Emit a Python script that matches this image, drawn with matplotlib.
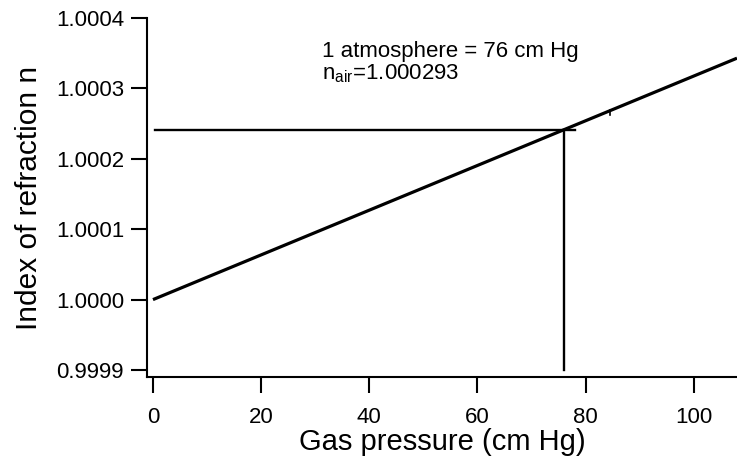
import numpy as np
import matplotlib.pyplot as plt
from matplotlib.ticker import FormatStrFormatter

plt.rcParams['font.family'] = ['Liberation Sans', 'DejaVu Sans']

# refraction line
pressure = [0, 108]
index_n = [1.0000, 1.000343]

# guide lines at one atmosphere
atm_p = 76
n_at_atm = 1.000241
guide_h_x = [0.3, 78]
guide_v_y = [0.9999, n_at_atm]

x_ticks = [0, 20, 40, 60, 80, 100]
y_ticks = [0.9999, 1.0000, 1.0001, 1.0002, 1.0003, 1.0004]

fig = plt.figure(figsize=(7.37, 4.57), dpi=100)
ax = fig.add_axes([0.1995, 0.175, 0.8005, 0.7855])

ax.plot(pressure, index_n, color='black', lw=2.3, solid_capstyle='butt')
ax.plot(guide_h_x, [n_at_atm, n_at_atm], color='black', lw=1.7)
ax.plot([atm_p, atm_p], guide_v_y, color='black', lw=1.7)
# little mark on the line near 85 cm Hg
ax.plot([84.6, 84.6], [1.000262, 1.000270], color='black', lw=1.2)

ax.set_xlim(-1.1, 108)
ax.set_ylim(0.99989, 1.0004)
ax.set_xticks(x_ticks)
ax.set_yticks(y_ticks)
ax.yaxis.set_major_formatter(FormatStrFormatter('%.4f'))

for s in ['top', 'right']:
    ax.spines[s].set_visible(False)
for s in ['left', 'bottom']:
    ax.spines[s].set_linewidth(1.5)

ax.tick_params(axis='both', direction='out', length=11.5, width=1.5,
               labelsize=16, pad=5)
ax.tick_params(axis='x', pad=10)

ax.set_xlabel('Gas pressure (cm Hg)', fontsize=21, labelpad=0)
ax.set_ylabel('Index of refraction n', fontsize=21.5, labelpad=9)

ax.text(31.3, 1.000345, '1 atmosphere = 76 cm Hg', fontsize=16)
ax.text(31.3, 1.0003125, r'n$_{\mathregular{air}}$=1.000293', fontsize=16)

fig.savefig('out.png', dpi=100)
